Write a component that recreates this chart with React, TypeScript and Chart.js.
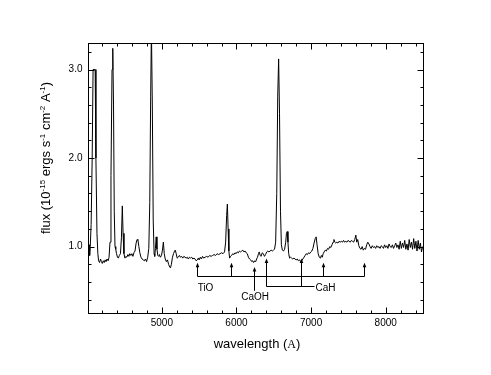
import React, { useEffect, useRef } from "react";
import { Chart, registerables } from "chart.js";

Chart.register(...registerables);

// ---- spectrum data (wavelength in Å, flux in 1e-15 erg s^-1 cm^-2 Å^-1) ----
const wavelengths: number[] = [
  4010, 4016, 4024, 4032, 4040, 4052, 4066, 4078, 4106, 4116, 4130, 4142, 4152, 4165, 4178, 4190,
  4202, 4215, 4228, 4240, 4252, 4265, 4280, 4292, 4305, 4318, 4332, 4342, 4352, 4362, 4372, 4382,
  4392, 4405, 4417, 4430, 4445, 4458, 4470, 4480, 4492, 4505, 4518, 4530, 4545, 4558, 4570, 4585,
  4598, 4612, 4625, 4640, 4655, 4668, 4680, 4692, 4705, 4720, 4735, 4750, 4765, 4780, 4795, 4810,
  4825, 4838, 4850, 4860, 4872, 4884, 4896, 4904, 4914, 4924, 4934, 4946, 4958, 4968, 4980, 4995,
  5008, 5020, 5032, 5045, 5060, 5075, 5090, 5105, 5115, 5128, 5142, 5156, 5170, 5180, 5192, 5205,
  5220, 5235, 5250, 5265, 5280, 5295, 5310, 5325, 5340, 5355, 5370, 5385, 5400, 5415, 5430, 5445,
  5460, 5475, 5488, 5500, 5515, 5530, 5545, 5560, 5580, 5600, 5620, 5640, 5660, 5680, 5700, 5720,
  5740, 5760, 5780, 5800, 5820, 5840, 5855, 5868, 5878, 5888, 5898, 5908, 5920, 5935, 5950, 5965,
  5980, 5995, 6010, 6025, 6040, 6055, 6070, 6085, 6100, 6115, 6130, 6145, 6160, 6175, 6190, 6205,
  6218, 6230, 6245, 6258, 6270, 6282, 6295, 6305, 6318, 6330, 6345, 6360, 6375, 6390, 6405, 6420,
  6435, 6450, 6465, 6480, 6495, 6510, 6525, 6540, 6553, 6565, 6577, 6590, 6602, 6615, 6630, 6645,
  6660, 6670, 6680, 6690, 6700, 6712, 6725, 6740, 6755, 6770, 6785, 6800, 6815, 6830, 6845, 6860,
  6875, 6890, 6905, 6920, 6935, 6950, 6965, 6980, 6995, 7010, 7025, 7040, 7055, 7068, 7080, 7095,
  7110, 7125, 7138, 7150, 7162, 7175, 7190, 7205, 7220, 7235, 7250, 7265, 7280, 7295, 7306, 7318,
  7330, 7345, 7360, 7375, 7390, 7405, 7420, 7435, 7450, 7465, 7480, 7495, 7510, 7525, 7540, 7555,
  7570, 7585, 7600, 7612, 7625, 7640, 7655, 7670, 7685, 7700, 7715, 7730, 7745, 7760, 7775, 7790,
  7805, 7820, 7835, 7850, 7865, 7880, 7895, 7910, 7925, 7940, 7955, 7970, 7985, 8000, 8015, 8030,
  8045, 8060, 8075, 8090, 8105, 8120, 8135, 8150, 8165, 8180, 8195, 8210, 8225, 8240, 8255, 8270,
  8285, 8300, 8315, 8330, 8345, 8360, 8375, 8390, 8405, 8420, 8435, 8450, 8465, 8480, 8495,
];

const flux: number[] = [
  1.2, 0.88, 1.02, 0.9, 1.0, 1.25, 2.0, 3.0, 3.0, 2.0, 1.15, 0.92, 0.84, 0.82, 0.86, 0.83,
  0.81, 0.84, 0.82, 0.85, 0.83, 0.86, 0.84, 0.88, 1.05, 1.8, 3.0, 3.24, 2.6, 1.4, 1.0, 0.97,
  0.92, 0.88, 0.87, 0.9, 0.92, 1.1, 1.46, 1.15, 0.92, 0.87, 0.89, 0.88, 0.91, 0.89, 0.92, 0.9,
  0.92, 0.89, 0.93, 0.95, 1.04, 1.08, 1.07, 1.0, 0.93, 0.88, 0.86, 0.85, 0.84, 0.86, 0.83, 0.88,
  0.98, 1.5, 2.7, 3.45, 2.6, 1.3, 0.92, 0.89, 0.98, 1.11, 0.97, 0.9, 0.89, 0.91, 0.88, 0.9,
  0.96, 1.05, 0.92, 0.86, 0.83, 0.85, 0.8, 0.77, 0.76, 0.8, 0.88, 0.92, 0.95, 0.96, 0.92, 0.87,
  0.88, 0.9, 0.88, 0.89, 0.87, 0.89, 0.88, 0.87, 0.88, 0.86, 0.88, 0.87, 0.88, 0.86, 0.87, 0.86,
  0.84, 0.85, 0.87, 0.85, 0.88, 0.86, 0.89, 0.87, 0.88, 0.89, 0.88, 0.9, 0.89, 0.9, 0.91, 0.9,
  0.92, 0.91, 0.92, 0.93, 0.92, 0.94, 1.05, 1.35, 1.48, 1.2, 0.95, 0.87, 0.89, 0.9, 0.92, 0.91,
  0.93, 0.92, 0.94, 0.93, 0.95, 0.94, 0.95, 0.96, 0.94, 0.95, 0.93, 0.92, 0.88, 0.86, 0.85, 0.83,
  0.84, 0.82, 0.84, 0.83, 0.86, 0.88, 0.92, 0.94, 0.9, 0.89, 0.93, 0.92, 0.89, 0.91, 0.94, 0.95,
  0.94, 0.95, 0.96, 0.95, 0.96, 0.97, 1.05, 1.6, 2.7, 3.12, 2.5, 1.4, 1.02, 0.96, 0.95, 0.97,
  1.05, 1.15, 1.17, 1.05, 0.92, 0.87, 0.88, 0.87, 0.86, 0.87, 0.86, 0.85, 0.86, 0.84, 0.85, 0.83,
  0.84, 0.86, 0.88, 0.9, 0.92, 0.91, 0.93, 0.92, 0.94, 0.95, 0.98, 1.04, 1.09, 1.11, 1.02, 0.92,
  0.88, 0.87, 0.9, 0.88, 0.92, 0.94, 0.96, 0.95, 0.98, 0.97, 1.0, 0.99, 1.02, 1.05, 1.08, 1.05,
  1.04, 1.05, 1.04, 1.06, 1.05, 1.06, 1.05, 1.07, 1.05, 1.06, 1.05, 1.07, 1.06, 1.05, 1.07, 1.06,
  1.05, 1.08, 1.13, 1.05, 1.08, 1.01, 0.98, 0.97, 1.0, 0.96, 0.98, 0.97, 1.02, 1.05, 1.03, 1.0,
  0.98, 1.01, 0.99, 1.0, 0.98, 1.01, 0.99, 1.0, 0.98, 1.01, 1.0, 0.98, 1.02, 0.99, 1.01, 0.98,
  1.03, 1.0, 0.99, 1.02, 0.98, 1.01, 1.04, 0.99, 1.02, 0.97, 1.06, 0.98, 1.04, 0.99, 1.07, 0.97,
  1.03, 0.96, 1.08, 0.99, 1.05, 0.97, 1.09, 0.98, 1.06, 0.95, 1.07, 0.97, 1.04, 0.94, 1.0,
];

// ---- axes ----
const xMin = 4010;
const xMax = 8500;
const yMin = 0.25;
const yMax = 3.3;
const xMajorTicks = [5000, 6000, 7000, 8000];
const xMinorTicks = [4200, 4400, 4600, 4800, 5200, 5400, 5600, 5800, 6200, 6400, 6600, 6800, 7200, 7400, 7600, 7800, 8200, 8400];
const yMajorTicks = [1.0, 2.0, 3.0];
const yMinorTicks = [0.4, 0.6, 0.8, 1.2, 1.4, 1.6, 1.8, 2.2, 2.4, 2.6, 2.8, 3.2];
const xTickLabels = ["5000", "6000", "7000", "8000"];
const yTickLabels = ["1.0", "2.0", "3.0"];

// ---- molecular band annotations ----
const tioBands = [5470, 5930, 7155, 7710];
const caohBand = 6240;
const cahBands = [6400, 6865];
const bandNames = ["TiO", "CaOH", "CaH"];

const FONT = "'Liberation Sans', Arial, Helvetica, sans-serif";
const SERIF = "'Liberation Serif', 'Times New Roman', serif";

function arrowUp(ctx: CanvasRenderingContext2D, x: number, yBase: number, yTip: number) {
  ctx.beginPath();
  ctx.moveTo(x, yBase);
  ctx.lineTo(x, yTip + 3);
  ctx.stroke();
  ctx.beginPath();
  ctx.moveTo(x, yTip);
  ctx.lineTo(x - 1.8, yTip + 4.5);
  ctx.lineTo(x + 1.8, yTip + 4.5);
  ctx.closePath();
  ctx.fill();
}

type Piece = { t: string; font: string; sup?: boolean };

function drawPieces(ctx: CanvasRenderingContext2D, pieces: Piece[], cx: number, cy: number) {
  let total = 0;
  const widths = pieces.map((p) => {
    ctx.font = p.font;
    const w = ctx.measureText(p.t).width;
    total += w;
    return w;
  });
  let x = cx - total / 2;
  ctx.textAlign = "left";
  ctx.textBaseline = "alphabetic";
  pieces.forEach((p, i) => {
    ctx.font = p.font;
    ctx.fillText(p.t, x, cy + 4.5 - (p.sup ? 5 : 0));
    x += widths[i];
  });
}

const framePlugin = {
  id: "framePlugin",
  afterDatasetsDraw(chart: any) {
    const { ctx, chartArea: a, scales } = chart;
    const xs = scales.x;
    const ys = scales.y;
    ctx.save();
    ctx.strokeStyle = "#000";
    ctx.fillStyle = "#000";
    ctx.lineWidth = 1;
    const L = Math.round(a.left) + 0.5;
    const R = Math.round(a.right) + 0.5;
    const T = Math.round(a.top) + 0.5;
    const B = Math.round(a.bottom) + 0.5;
    ctx.strokeRect(L, T, R - L, B - T);

    const xt = (v: number, len: number) => {
      const px = Math.round(xs.getPixelForValue(v)) + 0.5;
      ctx.beginPath();
      ctx.moveTo(px, B);
      ctx.lineTo(px, B - len);
      ctx.moveTo(px, T);
      ctx.lineTo(px, T + len);
      ctx.stroke();
    };
    const yt = (v: number, len: number) => {
      const py = Math.round(ys.getPixelForValue(v)) + 0.5;
      ctx.beginPath();
      ctx.moveTo(L, py);
      ctx.lineTo(L + len, py);
      ctx.moveTo(R, py);
      ctx.lineTo(R - len, py);
      ctx.stroke();
    };
    xMajorTicks.forEach((v) => xt(v, 6));
    xMinorTicks.forEach((v) => xt(v, 3));
    yMajorTicks.forEach((v) => yt(v, 6));
    yMinorTicks.forEach((v) => yt(v, 3));

    // tick labels
    ctx.font = `10px ${FONT}`;
    ctx.textAlign = "center";
    ctx.textBaseline = "middle";
    xMajorTicks.forEach((v, i) => {
      ctx.fillText(xTickLabels[i], xs.getPixelForValue(v), B + 10);
    });
    ctx.textAlign = "right";
    yMajorTicks.forEach((v, i) => {
      ctx.fillText(yTickLabels[i], L - 6, ys.getPixelForValue(v));
    });

    // x title
    drawPieces(
      ctx,
      [
        { t: "wavelength (", font: `13px ${FONT}` },
        { t: "A", font: `12px ${SERIF}` },
        { t: ")", font: `13px ${FONT}` },
      ],
      (L + R) / 2 + 1,
      343
    );

    // y title (rotated)
    ctx.save();
    ctx.translate(45, (T + B) / 2 - 20.5);
    ctx.rotate(-Math.PI / 2);
    const m = `13px ${FONT}`;
    const s = `8px ${FONT}`;
    drawPieces(
      ctx,
      [
        { t: "flux (10", font: m },
        { t: "-15", font: s, sup: true },
        { t: " ergs s", font: m },
        { t: "-1", font: s, sup: true },
        { t: " cm", font: m },
        { t: "-2", font: s, sup: true },
        { t: " A", font: m },
        { t: "-1", font: s, sup: true },
        { t: ")", font: m },
      ],
      0,
      0
    );
    ctx.restore();

    // annotations
    const X = (v: number) => Math.round(xs.getPixelForValue(v)) + 0.5;
    const Y = (v: number) => ys.getPixelForValue(v);
    // TiO
    const tioBarY = Math.round(Y(0.67)) + 0.5;
    ctx.beginPath();
    ctx.moveTo(X(tioBands[0]), tioBarY);
    ctx.lineTo(X(tioBands[tioBands.length - 1]), tioBarY);
    ctx.stroke();
    tioBands.forEach((b) => arrowUp(ctx, X(b), tioBarY, Y(0.818)));
    // CaOH
    arrowUp(ctx, X(caohBand), Y(0.5), Y(0.77));
    // CaH
    const cahBarY = Math.round(Y(0.55)) + 0.5;
    ctx.beginPath();
    ctx.moveTo(X(cahBands[0]), cahBarY);
    ctx.lineTo(X(7045), cahBarY);
    ctx.stroke();
    cahBands.forEach((b) => arrowUp(ctx, X(b), cahBarY, Y(0.865)));

    ctx.font = `10px ${FONT}`;
    ctx.textBaseline = "middle";
    ctx.textAlign = "center";
    ctx.fillText(bandNames[0], xs.getPixelForValue(5585), Y(0.53));
    ctx.fillText(bandNames[1], xs.getPixelForValue(6250), Y(0.43));
    ctx.textAlign = "left";
    ctx.fillText(bandNames[2], xs.getPixelForValue(7060), Y(0.53));

    ctx.restore();
  },
};

export default function App() {
  const ref = useRef<HTMLCanvasElement | null>(null);
  useEffect(() => {
    document.body.style.margin = "0";
    const canvas = ref.current!;
    const chart = new Chart(canvas, {
      type: "line",
      data: {
        datasets: [
          {
            data: wavelengths.map((w, i) => ({ x: w, y: flux[i] })),
            borderColor: "#000",
            borderWidth: 1,
            pointRadius: 0,
            tension: 0,
            fill: false,
            clip: 0,
          } as any,
        ],
      },
      options: {
        responsive: false,
        animation: false,
        events: [],
        layout: { padding: { left: 88, right: 68, top: 43, bottom: 62 } },
        plugins: { legend: { display: false }, tooltip: { enabled: false }, title: { display: false } },
        scales: {
          x: { type: "linear", min: xMin, max: xMax, display: false },
          y: { type: "linear", min: yMin, max: yMax, display: false },
        },
      },
      plugins: [framePlugin],
    });
    return () => chart.destroy();
  }, []);
  return (
    <div style={{ position: "absolute", left: 0, top: 0, width: 491, height: 375, background: "#fff" }}>
      <canvas ref={ref} width={491} height={375} style={{ width: 491, height: 375, display: "block" }} />
    </div>
  );
}
